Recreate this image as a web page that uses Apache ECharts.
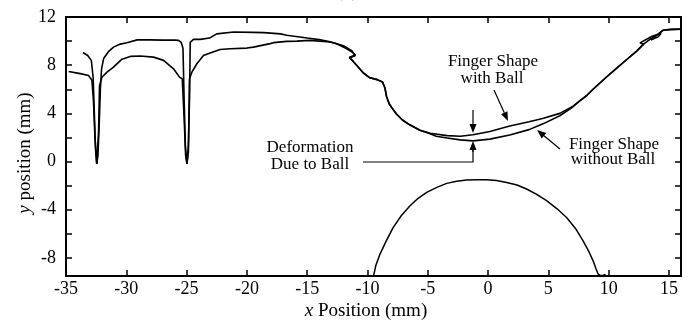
<!DOCTYPE html>
<html>
<head>
<meta charset="utf-8">
<script src="https://cdn.jsdelivr.net/npm/echarts@6/dist/echarts.min.js"></script>
<style>
  html, body { margin: 0; padding: 0; background: #fff; }
  #chart { width: 690px; height: 323px; }
</style>
</head>
<body>
<div id="chart"></div>
<script>
  // finger outline, upper curve (with ball), [x mm, y mm]
  const fingerWithBall = [
    [-33.6, 9.05], [-33.2, 8.8], [-32.9, 8.4], [-32.75, 7.0], [-32.65, 4.0], [-32.55, 1.0],
    [-32.45, -0.2], [-32.35, 0.5], [-32.25, 3.0], [-32.15, 6.0], [-32.05, 7.7], [-31.88, 8.55],
    [-31.5, 9.1], [-31.06, 9.5], [-30.5, 9.75], [-29.95, 9.87], [-29.1, 10.1], [-28, 10.1],
    [-27, 10.08], [-26, 10.08], [-25.67, 10.06], [-25.45, 9.9], [-25.3, 9.4], [-25.2, 5.0],
    [-25.1, 1.3], [-24.97, -0.2], [-24.85, 1.3], [-24.75, 5.5], [-24.7, 9.9], [-24.43, 10.14],
    [-23.87, 10.14], [-23.1, 10.25], [-22.5, 10.6], [-21.1, 10.75], [-19.5, 10.72], [-18.6, 10.7],
    [-17.2, 10.6], [-16.7, 10.48], [-15.0, 10.25], [-14.0, 10.12], [-13.1, 9.95], [-12.0, 9.62],
    [-11.3, 9.2], [-11.03, 8.78], [-11.45, 8.62], [-10.9, 8.0], [-10.34, 7.35], [-9.8, 6.95],
    [-9.2, 6.8], [-8.75, 6.6], [-8.55, 6.1], [-8.42, 5.4], [-8.2, 4.8], [-8.0, 4.5], [-7.6, 3.95],
    [-7.1, 3.45], [-6.5, 3.05], [-5.65, 2.6], [-4.8, 2.35], [-3.4, 2.15], [-2.3, 2.1], [-1.25, 2.22],
    [0.15, 2.5], [1.8, 2.95], [3.4, 3.3], [4.6, 3.6], [5.95, 4.0], [7.05, 4.6], [7.5, 4.95],
    [8.2, 5.5], [8.71, 6.0], [9.8, 7.0], [10.6, 7.7], [11.48, 8.45], [12.3, 9.15], [12.9, 9.75],
    [12.6, 9.85], [13.6, 10.4], [14.35, 10.65], [14.1, 10.35], [13.5, 10.1], [14.0, 10.5],
    [14.5, 10.9], [15.2, 11.0], [16, 11.0]
  ];

  // finger outline, lower curve (without ball)
  const fingerWithoutBall = [
    [-34.78, 7.48], [-33.82, 7.3], [-33.13, 7.15], [-32.85, 6.75], [-32.72, 5.0], [-32.6, 2.0],
    [-32.45, -0.2], [-32.3, 2.5], [-32.22, 6.3], [-32.02, 7.0], [-31.6, 7.42], [-31.06, 7.84],
    [-30.36, 8.5], [-29.67, 8.73], [-28.84, 8.76], [-27.74, 8.67], [-26.91, 8.4], [-26.08, 7.7],
    [-25.59, 7.01], [-25.36, 6.87], [-25.2, 3.5], [-25.08, 0.5], [-24.97, -0.2], [-24.85, 0.8],
    [-24.76, 6.87], [-24.56, 7.42], [-24.15, 8.12], [-23.6, 8.8], [-23.1, 9.0], [-22.22, 9.3],
    [-21.39, 9.37], [-20.0, 9.42], [-19.46, 9.5], [-18.07, 9.79], [-17.8, 9.87], [-16.69, 9.98],
    [-15.86, 10.0], [-14.76, 10.06], [-13.1, 9.92], [-12.55, 9.78], [-11.8, 9.4], [-11.2, 9.05],
    [-11.0, 8.85], [-11.5, 8.65], [-10.9, 8.0], [-10.34, 7.35], [-9.8, 6.95], [-9.2, 6.8],
    [-8.75, 6.6], [-8.55, 6.1], [-8.42, 5.4], [-8.2, 4.8], [-8.0, 4.5], [-7.6, 3.95], [-7.1, 3.45],
    [-6.5, 3.05], [-5.65, 2.6], [-4.8, 2.3], [-4.3, 2.1], [-3.4, 1.95], [-2.3, 1.8], [-1.25, 1.72],
    [0.15, 1.86], [1.8, 2.2], [3.4, 2.65], [4.6, 3.15], [5.95, 3.8], [7.05, 4.55], [7.5, 4.95],
    [8.2, 5.5], [8.71, 6.0], [9.8, 7.0], [10.6, 7.7], [11.48, 8.45], [12.3, 9.15], [12.9, 9.75],
    [13.5, 10.2], [14.0, 10.5], [14.5, 10.9], [16, 10.98]
  ];

  // ball profile
  const ballShape = [
    [-9.52, -9.6], [-9.3, -8.6], [-8.96, -7.68], [-8.4, -6.5], [-7.86, -5.47], [-7.2, -4.5],
    [-6.47, -3.67], [-5.8, -3.05], [-5.09, -2.56], [-4.2, -2.12], [-3.43, -1.81], [-2.6, -1.64],
    [-1.78, -1.53], [-0.9, -1.5], [-0.12, -1.52], [0.7, -1.58], [1.54, -1.73], [2.4, -1.95],
    [3.19, -2.28], [4.0, -2.7], [4.85, -3.25], [5.7, -3.9], [6.51, -4.64], [7.25, -5.55],
    [7.88, -6.58], [8.35, -7.45], [8.71, -8.24], [8.95, -8.9], [9.13, -9.35], [9.3, -9.45],
    [9.5, -9.45], [9.7, -9.4], [9.85, -9.6]
  ];

  const yLabelStep = 4;

  const serif = '"Liberation Serif", "Times New Roman", serif';

  const chartDom = document.getElementById('chart');
  const myChart = echarts.init(chartDom);

  // 箭头：线段 + 三角形
  function arrow(x1, y1, x2, y2) {
    const a = Math.atan2(y2 - y1, x2 - x1);
    const len = 9, w = 3.5;
    const bx = x2 - len * Math.cos(a), by = y2 - len * Math.sin(a);
    return [
      { type: 'line', shape: { x1: x1, y1: y1, x2: bx, y2: by }, style: { stroke: '#000', lineWidth: 1.2 } },
      {
        type: 'polygon',
        shape: { points: [[x2, y2], [bx - w * Math.sin(a), by + w * Math.cos(a)], [bx + w * Math.sin(a), by - w * Math.cos(a)]] },
        style: { fill: '#000' }
      }
    ];
  }

  function label(text, x, y, size) {
    return {
      type: 'text', x: x, y: y,
      style: {
        text: text, fontSize: size || 17, fontFamily: serif, fill: '#000',
        align: 'center', verticalAlign: 'middle', textAlign: 'center', textVerticalAlign: 'middle'
      }
    };
  }

  const xAxisBase = {
    type: 'value',
    min: -35,
    max: 16,
    interval: 5,
    splitLine: { show: false },
    axisLine: { show: true, onZero: false, lineStyle: { color: '#000', width: 2 } },
    axisTick: { show: true, inside: true, length: 6, lineStyle: { color: '#000', width: 1.5 } }
  };
  const yAxisBase = {
    type: 'value',
    min: -9.5,
    max: 12,
    splitNumber: 10,
    minInterval: 2,
    maxInterval: 2,
    splitLine: { show: false },
    axisLine: { show: true, onZero: false, lineStyle: { color: '#000', width: 2 } },
    axisTick: { show: true, inside: true, length: 6, lineStyle: { color: '#000', width: 1.5 } }
  };

  const lineSeries = (name, data, w) => ({
    name: name,
    type: 'line',
    data: data,
    showSymbol: false,
    symbol: 'none',
    lineStyle: { color: '#000', width: w },
    itemStyle: { color: '#000' },
    animation: false
  });

  const option = {
    backgroundColor: '#fff',
    animation: false,
    grid: { left: 66, right: 9, top: 17, bottom: 47 },
    xAxis: [
      Object.assign({}, xAxisBase, {
        position: 'bottom',
        axisLabel: {
          color: '#000', fontSize: 18, fontFamily: serif, margin: 4,
          showMaxLabel: false
        }
      }),
      Object.assign({}, xAxisBase, { position: 'top', axisLabel: { show: false } })
    ],
    yAxis: [
      Object.assign({}, yAxisBase, {
        position: 'left',
        axisLabel: {
          color: '#000', fontSize: 18, fontFamily: serif, margin: 10,
          formatter: (v) => (v % yLabelStep === 0 ? String(v) : '')
        }
      }),
      Object.assign({}, yAxisBase, { position: 'right', axisLabel: { show: false } })
    ],
    series: [
      lineSeries('Finger Shape with Ball', fingerWithBall, 1.6),
      lineSeries('Finger Shape without Ball', fingerWithoutBall, 1.6),
      lineSeries('Ball', ballShape, 1.5)
    ],
    graphic: [
      // 标题（上方被裁切）
      label('(c)', 347, -9, 20),
      // 坐标轴名称
      {
        type: 'text', x: 366, y: 311,
        style: {
          text: '{i|x}{n| Position (mm)}',
          rich: {
            i: { fontSize: 19, fontFamily: serif, fontStyle: 'italic', fill: '#000' },
            n: { fontSize: 19, fontFamily: serif, fill: '#000' }
          },
          fontSize: 19, fontFamily: serif, fill: '#000',
          align: 'center', verticalAlign: 'middle', textAlign: 'center', textVerticalAlign: 'middle'
        }
      },
      {
        type: 'text', x: 25, y: 153, rotation: Math.PI / 2,
        style: {
          text: '{i|y}{n| position (mm)}',
          rich: {
            i: { fontSize: 19, fontFamily: serif, fontStyle: 'italic', fill: '#000' },
            n: { fontSize: 19, fontFamily: serif, fill: '#000' }
          },
          fontSize: 19, fontFamily: serif, fill: '#000',
          align: 'center', verticalAlign: 'middle', textAlign: 'center', textVerticalAlign: 'middle'
        }
      },
      // 注释文字
      label('Finger Shape', 493, 62),
      label('with Ball', 492, 79),
      label('Finger Shape', 614, 145),
      label('without Ball', 613, 160),
      label('Deformation', 310, 148),
      label('Due to Ball', 310, 165),
      ...arrow(494, 90, 508, 121),
      ...arrow(560, 149, 537, 130),
      ...arrow(473, 110, 473, 133),
      { type: 'polyline', shape: { points: [[363, 162], [473, 162], [473, 150]] }, style: { stroke: '#000', lineWidth: 1.2, fill: null } },
      ...arrow(473, 152, 473, 141)
    ]
  };

  option && myChart.setOption(option);
</script>
</body>
</html>
